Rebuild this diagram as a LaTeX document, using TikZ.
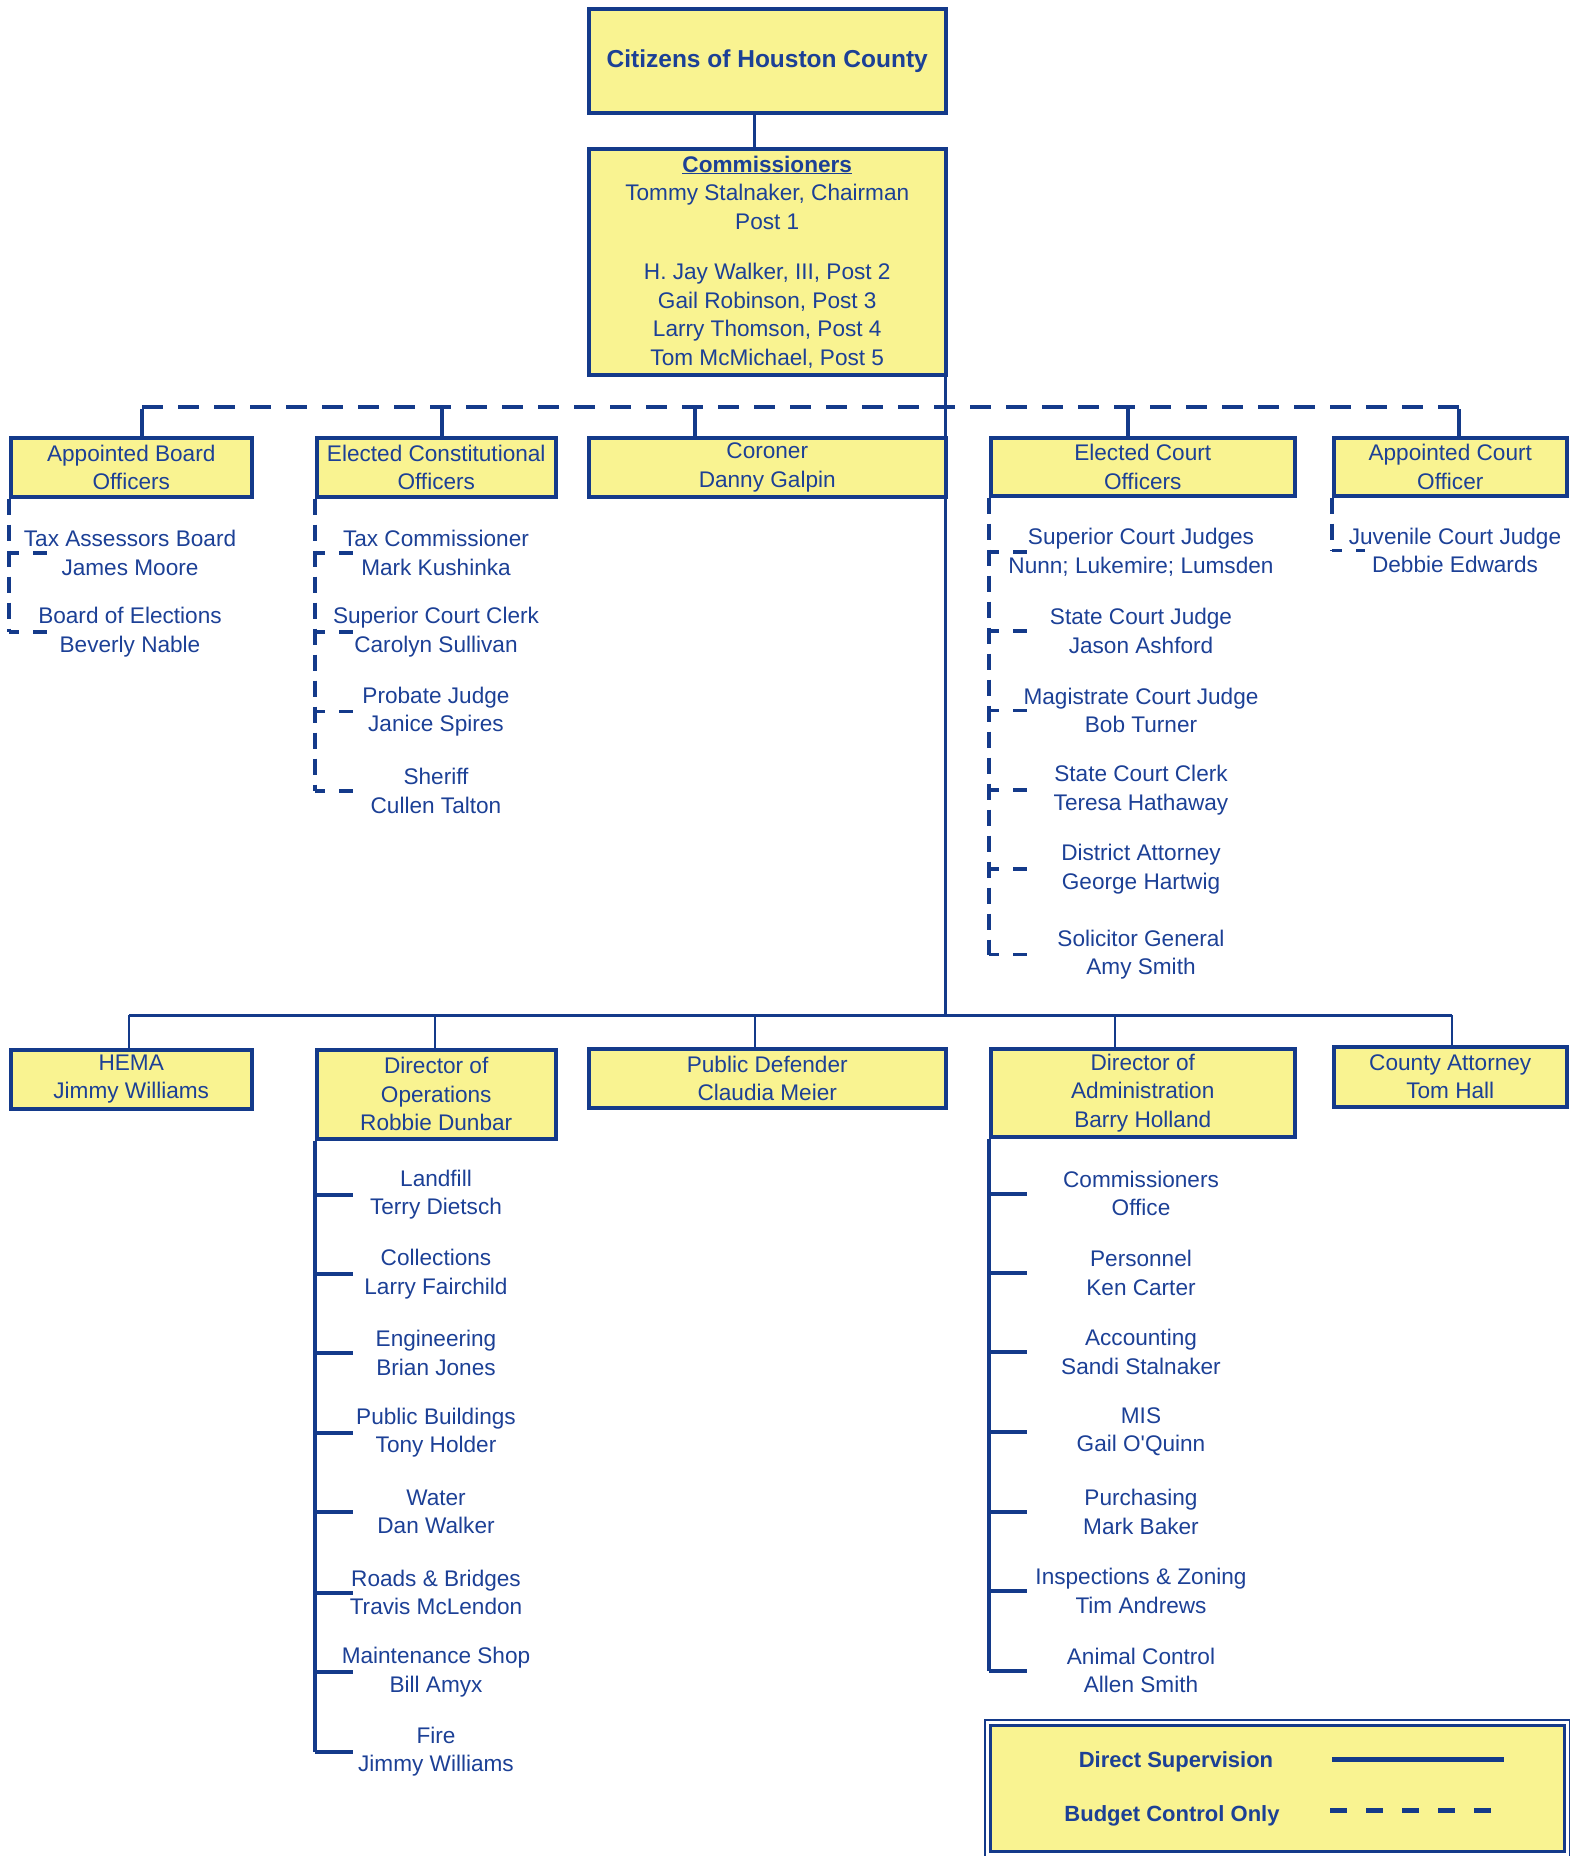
\documentclass[tikz,border=0pt]{standalone}
\usepackage{fontspec}
\setmainfont{Liberation Sans}
\usetikzlibrary{calc}
\definecolor{navy}{RGB}{20,58,138}
\definecolor{txt}{RGB}{28,64,150}
\definecolor{pale}{RGB}{249,243,145}
\begin{document}
\begin{tikzpicture}[x=1pt,y=-1pt,
  every node/.style={font=\fontsize{22.6}{28.5}\selectfont, text=txt, align=center, inner sep=0pt},
  box/.style={draw=navy, fill=pale, line width=3.5pt, anchor=north west},
  sup/.style={draw=navy, line width=3pt},
  bud/.style={draw=navy, line width=3.5pt, dash pattern=on 16pt off 10pt},
  busdash/.style={draw=navy, line width=3.5pt, dash pattern=on 21pt off 15pt},
  budtick/.style={draw=navy, line width=3.5pt, dash pattern=on 10pt off 14pt on 14pt off 100pt},
  suptick/.style={draw=navy, line width=4pt},
]
\useasboundingbox (0,0) rectangle (1570,1856);

% ---- boxes
\node[box, minimum width=357, minimum height=104, font=\fontsize{24.5}{30}\selectfont\bfseries] (cit) at (587,7) {Citizens of Houston County};
\node[box, minimum width=357, minimum height=226] (com) at (587,147)
 {\textbf{\underline{Commissioners}}\\Tommy Stalnaker, Chairman\\Post 1\\[22pt]H. Jay Walker, III, Post 2\\Gail Robinson, Post 3\\Larry Thomson, Post 4\\Tom McMichael, Post 5};

\node[box, minimum width=241, minimum height=59] (abo) at (9,436) {Appointed Board\\Officers};
\node[box, minimum width=239, minimum height=59] (eco) at (315,436) {Elected Constitutional\\Officers};
\node[box, minimum width=357, minimum height=59] (cor) at (587,436) {Coroner\\Danny Galpin};
\node[box, minimum width=304, minimum height=58] (ecc) at (989,436) {Elected Court\\Officers};
\node[box, minimum width=233, minimum height=58] (aco) at (1332,436) {Appointed Court\\Officer};

\node[box, minimum width=241, minimum height=59] (hema) at (9,1048) {HEMA\\Jimmy Williams};
\node[box, minimum width=239, minimum height=89] (dop) at (315,1048) {Director of\\Operations\\Robbie Dunbar};
\node[box, minimum width=357, minimum height=59] (pd) at (587,1047) {Public Defender\\Claudia Meier};
\node[box, minimum width=304, minimum height=88] (doa) at (989,1047) {Director of\\Administration\\Barry Holland};
\node[box, minimum width=233, minimum height=60] (ca) at (1332,1045) {County Attorney\\Tom Hall};

% ---- items
\node (a1) at (130,553) {Tax Assessors Board\\James Moore};
\node (a2) at (130,632) {Board of Elections\\Beverly Nable};

\node (e1) at (436,553) {Tax Commissioner\\Mark Kushinka};
\node (e2) at (436,632) {Superior Court Clerk\\Carolyn Sullivan};
\node (e3) at (436,711.5) {Probate Judge\\Janice Spires};
\node (e4) at (436,791) {Sheriff\\Cullen Talton};

\node (c1) at (1141,552) {Superior Court Judges\\Nunn; Lukemire; Lumsden};
\node (c2) at (1141,631) {State Court Judge\\Jason Ashford};
\node (c3) at (1141,710.5) {Magistrate Court Judge\\Bob Turner};
\node (c4) at (1141,790) {State Court Clerk\\Teresa Hathaway};
\node (c5) at (1141,869) {District Attorney\\George Hartwig};
\node (c6) at (1141,954.5) {Solicitor General\\Amy Smith};

\node (j1) at (1455,550.5) {Juvenile Court Judge\\Debbie Edwards};

\node (o1) at (436,1194.5) {Landfill\\Terry Dietsch};
\node (o2) at (436,1274) {Collections\\Larry Fairchild};
\node (o3) at (436,1353) {Engineering\\Brian Jones};
\node (o4) at (436,1432.5) {Public Buildings\\Tony Holder};
\node (o5) at (436,1512) {Water\\Dan Walker};
\node (o6) at (436,1592.5) {Roads \& Bridges\\Travis McLendon};
\node (o7) at (436,1672) {Maintenance Shop\\Bill Amyx};
\node (o8) at (436,1751.5) {Fire\\Jimmy Williams};

\node (d1) at (1141,1193.5) {Commissioners\\Office};
\node (d2) at (1141,1273) {Personnel\\Ken Carter};
\node (d3) at (1141,1352) {Accounting\\Sandi Stalnaker};
\node (d4) at (1141,1431.5) {MIS\\Gail O\textquotesingle Quinn};
\node (d5) at (1141,1512) {Purchasing\\Mark Baker};
\node (d6) at (1141,1591) {Inspections \& Zoning\\Tim Andrews};
\node (d7) at (1141,1670.5) {Animal Control\\Allen Smith};

% ---- top connectors
\draw[sup] ([xshift=-13pt]cit.south) -- ([xshift=-13pt]com.north);
\coordinate (tbL) at (142,407);
\coordinate (tbR) at (1459,407);
\draw[busdash] (tbL) -- (tbR);
\draw[navy, line width=3.5pt] (tbL |- abo.north) -- ([yshift=-1.75pt]tbL);
\draw[navy, line width=3.5pt] (tbR |- aco.north) -- ([yshift=-1.75pt]tbR);
\draw[navy, line width=3.5pt] ([xshift=5.5pt]eco.north) -- ([xshift=5.5pt]eco.north |- tbL);
\draw[navy, line width=3.5pt] ([xshift=-72.5pt]cor.north) -- ([xshift=-72.5pt]cor.north |- tbL);
\draw[navy, line width=3.5pt] ([xshift=-15pt]ecc.north) -- ([xshift=-15pt]ecc.north |- tbL);

% ---- main vertical and lower bus
\coordinate (busL) at (129,1015);
\coordinate (busR) at (1452,1015);
\draw[navy, line width=2.5pt] ([xshift=-2pt]com.south east) -- ([xshift=-2pt]com.south east |- busL);
\draw[sup] (busL) -- (busR);
\draw[navy, line width=2.5pt] (busL) -- (busL |- hema.north);
\draw[navy, line width=2.5pt] ([xshift=-1.5pt]dop.north) -- ([xshift=-1.5pt]dop.north |- busL);
\draw[navy, line width=2.5pt] ([xshift=-12.5pt]pd.north) -- ([xshift=-12.5pt]pd.north |- busL);
\draw[navy, line width=2.5pt] ([xshift=-28pt]doa.north) -- ([xshift=-28pt]doa.north |- busL);
\draw[navy, line width=2.5pt] (busR) -- (busR |- ca.north);

% ---- budget-control spines
\draw[bud] (abo.south west) -- (abo.south west |- a2);
\foreach \n in {a1,a2} \draw[budtick] (abo.south west |- \n) -- ($(abo.south west |- \n)+(38,0)$);
\draw[bud] (eco.south west) -- (eco.south west |- e4);
\foreach \n in {e1,e2,e3,e4} \draw[budtick] (eco.south west |- \n) -- ($(eco.south west |- \n)+(38,0)$);
\draw[bud] (ecc.south west) -- (ecc.south west |- c6);
\foreach \n in {c1,c2,c3,c4,c5,c6} \draw[budtick] (ecc.south west |- \n) -- ($(ecc.south west |- \n)+(38,0)$);
\draw[bud] (aco.south west) -- (aco.south west |- j1);
\draw[budtick] (aco.south west |- j1) -- ($(aco.south west |- j1)+(33,0)$);

% ---- direct-supervision spines
\draw[navy, line width=3.5pt] (dop.south west) -- (dop.south west |- o8);
\foreach \n in {o1,o2,o3,o4,o5,o6,o7,o8} \draw[suptick] (dop.south west |- \n) -- ($(dop.south west |- \n)+(38,0)$);
\draw[navy, line width=3.5pt] (doa.south west) -- (doa.south west |- d7);
\foreach \n in {d1,d2,d3,d4,d5,d6,d7} \draw[suptick] (doa.south west |- \n) -- ($(doa.south west |- \n)+(38,0)$);

% ---- legend
\node[draw=navy, fill=pale, line width=3pt, anchor=north west, minimum width=574, minimum height=126] (leg) at (989,1724) {};
\draw[navy, line width=1.2pt] ([xshift=-4pt,yshift=4pt]leg.north west) rectangle ([xshift=4pt,yshift=-4pt]leg.south east);
\node[font=\fontsize{22}{28.5}\selectfont\bfseries] (ds) at (1176,1762) {Direct Supervision};
\node[font=\fontsize{22}{28.5}\selectfont\bfseries] (bc) at (1172,1816) {Budget Control Only};
\coordinate (l1a) at (1332,1759);
\coordinate (l1b) at (1504,1759);
\coordinate (l2a) at (1330,1810);
\coordinate (l2b) at (1494,1810);
\draw[navy, line width=5pt] (l1a) -- (l1b);
\draw[navy, line width=5pt, dash pattern=on 17pt off 19pt] (l2a) -- (l2b);
\end{tikzpicture}
\end{document}
